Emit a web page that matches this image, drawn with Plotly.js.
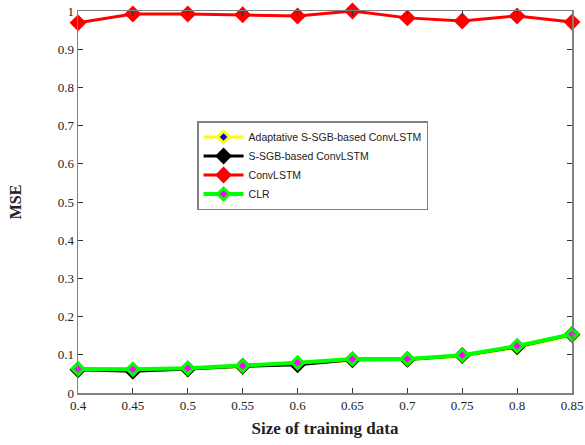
<!DOCTYPE html>
<html><head><meta charset="utf-8">
<script src="https://cdn.plot.ly/plotly-3.0.1.min.js"></script>
<style>body{margin:0;padding:0;background:#fff}#chart{width:585px;height:445px}</style>
</head><body><div id="chart"></div>
<script>
const trainSize = [0.4,0.45,0.5,0.55,0.6,0.65,0.7,0.75,0.8,0.85];
const adaptive = [0.061,0.058,0.063,0.069,0.076,0.086,0.087,0.097,0.119,0.151];
const ssgb = [0.061,0.057,0.063,0.070,0.074,0.087,0.088,0.098,0.121,0.153];
const convlstm = [0.969,0.992,0.992,0.990,0.987,1.000,0.982,0.974,0.987,0.971];
const clr = [0.063,0.062,0.065,0.071,0.079,0.089,0.089,0.099,0.123,0.154];
const xTicks = [0.4,0.45,0.5,0.55,0.6,0.65,0.7,0.75,0.8,0.85];
const xTickText = ['0.4','0.45','0.5','0.55','0.6','0.65','0.7','0.75','0.8','0.85'];
const yTicks = [0,0.1,0.2,0.3,0.4,0.5,0.6,0.7,0.8,0.9,1];
const yTickText = ['0','0.1','0.2','0.3','0.4','0.5','0.6','0.7','0.8','0.9','1'];

const traces = [
 {x:trainSize,y:adaptive,name:'Adaptative S-SGB-based ConvLSTM',mode:'lines+markers',cliponaxis:false,
  line:{color:'#ffff00',width:3},marker:{symbol:'diamond',size:9,color:'#0000ff',line:{color:'#ffff00',width:3}}},
 {x:trainSize,y:ssgb,name:'S-SGB-based ConvLSTM',mode:'lines+markers',cliponaxis:false,
  line:{color:'#000000',width:3},marker:{symbol:'diamond',size:13,color:'#000000'}},
 {x:trainSize,y:convlstm,name:'ConvLSTM',mode:'lines+markers',cliponaxis:false,
  line:{color:'#ff0000',width:3},marker:{symbol:'diamond',size:13,color:'#ff0000'}},
 {x:trainSize,y:clr,name:'CLR',mode:'lines+markers',cliponaxis:false,
  line:{color:'#00ff00',width:4},marker:{symbol:'diamond',size:9,color:'#ff00ff',line:{color:'#00ff00',width:3}}}
];

const axisCommon = {showline:true,linecolor:'#808080',linewidth:1.5,mirror:'ticks',ticks:'inside',ticklen:5,
  tickcolor:'#333',showgrid:false,zeroline:false,tickfont:{family:'Liberation Serif',size:13,color:'#222'}};

const layout = {
  width:585,height:445,margin:{l:78,r:13,t:11,b:52},
  paper_bgcolor:'#fff',plot_bgcolor:'#fff',
  xaxis:Object.assign({},axisCommon,{range:[0.4,0.85],tickvals:xTicks,ticktext:xTickText,
    title:{text:'<b>Size of training data</b>',font:{family:'Liberation Serif',size:17,color:'#222'},standoff:10}}),
  yaxis:Object.assign({},axisCommon,{range:[0,1],tickvals:yTicks,ticktext:yTickText,
    title:{text:'<b>MSE</b>',font:{family:'Liberation Serif',size:16,color:'#222'},standoff:32}}),
  showlegend:true,
  legend:{x:0.241,y:0.712,xanchor:'left',yanchor:'top',bgcolor:'#fff',bordercolor:'#808080',borderwidth:1.5,
    font:{family:'Liberation Sans',size:10.5,color:'#222'},tracegroupgap:0,itemwidth:40}
};
Plotly.newPlot('chart',traces,layout,{displayModeBar:false,staticPlot:true});
</script></body></html>
